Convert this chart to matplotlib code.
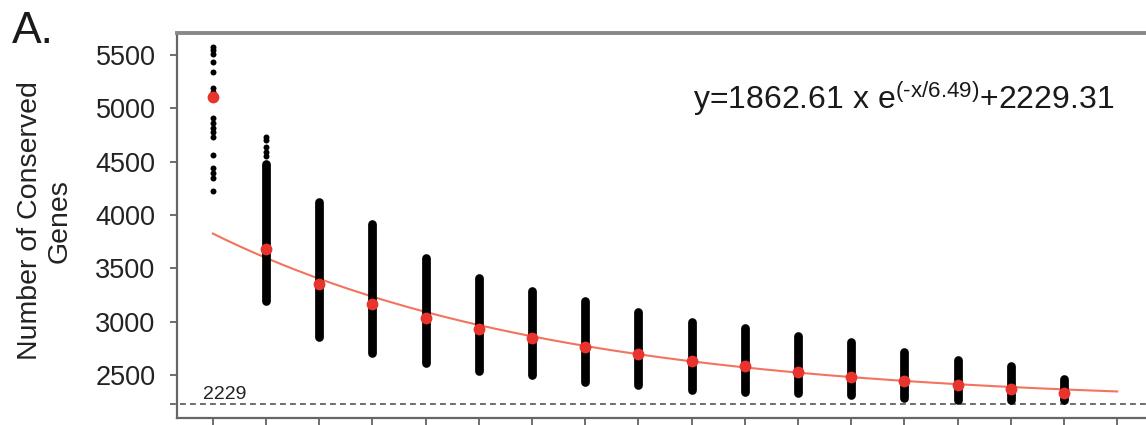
import matplotlib
matplotlib.use('Agg')
import matplotlib.pyplot as plt
import numpy as np

# --- data ---
positions = list(range(1, 18))
means = [5110, 3680, 3350, 3165, 3030, 2930, 2845, 2760, 2695, 2630,
         2583, 2528, 2481, 2444, 2406, 2369, 2331]

# solid ranges (column 1 has only scattered points)
bar_x = list(range(2, 18))
bar_low = [3190, 2860, 2710, 2617, 2533, 2500, 2439, 2402, 2364,
           2345, 2336, 2308, 2289, 2270, 2270, 2270]
bar_high = [4480, 4125, 3918, 3594, 3406, 3290, 3197, 3094, 3000,
            2944, 2870, 2813, 2720, 2645, 2580, 2458]

# separate points
col1_points = [5575, 5547, 5509, 5434, 5341, 5191, 5154, 4910, 4864, 4817,
               4780, 4733, 4565, 4444, 4396, 4350, 4228]
col2_points = [4733, 4705, 4640, 4590, 4555]

# fit printed on the chart
fit_a = 1862.61
fit_tau = 6.49
fit_c = 2229.31
fit_x = list(range(1, 19))
baseline_value = 2229

y_ticks = [2500, 3000, 3500, 4000, 4500, 5000, 5500]

plt.rcParams['font.family'] = ['Liberation Sans', 'DejaVu Sans']
plt.rcParams['mathtext.fontset'] = 'custom'
plt.rcParams['mathtext.rm'] = 'Liberation Sans'
plt.rcParams['mathtext.it'] = 'Liberation Sans'

W, H = 1146, 425
fig = plt.figure(figsize=(W / 100, H / 100), dpi=100)
ax = fig.add_axes([177 / W, 7 / H, (1165 - 177) / W, (418 - 33) / H])

# fitted curve (smooth)
xs = np.linspace(fit_x[0], fit_x[-1], 200)
ax.plot(xs, fit_a * np.exp(-xs / fit_tau) + fit_c, color='#f4735f', lw=1.5, zorder=2)

# ranges
ax.vlines(bar_x, bar_low, bar_high, color='black', lw=6.3, capstyle='round', zorder=3)
ax.plot([1] * len(col1_points), col1_points, 'o', color='black', ms=4.3, mew=0, zorder=3)
ax.plot([2] * len(col2_points), col2_points, 'o', color='black', ms=4.3, mew=0, zorder=3)

# means
ax.plot(positions, means, 'o', color='#e8342c', ms=8.5, mew=0, zorder=4)

# asymptote line
ax.plot([0.19, 18.9], [baseline_value, baseline_value], ls=(0, (3.5, 2.5)),
        color='#555555', lw=1.2, clip_on=False, zorder=1)
ax.text(0.81, baseline_value + 45, str(baseline_value), fontsize=14,
        color='#222222', va='baseline', ha='left')

ax.set_xlim(0.327, 18.9)
ax.set_ylim(2097, 5706)
ax.set_xticks(fit_x)
ax.set_xticklabels([])
ax.set_yticks(y_ticks)
ax.set_yticklabels([str(t) for t in y_ticks], fontsize=19.5, color='#222222')
ax.tick_params(axis='both', length=5, width=1.2, color='#555555', direction='out')
ax.tick_params(axis='y', pad=10.5)

for side in ['left', 'bottom']:
    ax.spines[side].set_color('#666666')
    ax.spines[side].set_linewidth(1.6)
ax.spines['top'].set_color('#888888')
ax.spines['top'].set_linewidth(2.8)
ax.spines['right'].set_visible(False)

fig.text(45 / W, 1 - 221 / H, 'Number of Conserved\nGenes', rotation=90,
         ha='center', va='center', multialignment='center', fontsize=20.5,
         color='#222222')
fig.text(12 / W, 1 - 43 / H, 'A.', fontsize=32, color='#1a1a1a', va='baseline')
fig.text(693 / W, 1 - 109 / H,
         r'y=1862.61 x e$^{\text{(-x/6.49)}}$+2229.31',
         fontsize=23, color='#1a1a1a', va='baseline', ha='left')

fig.savefig('out.png', dpi=100)
